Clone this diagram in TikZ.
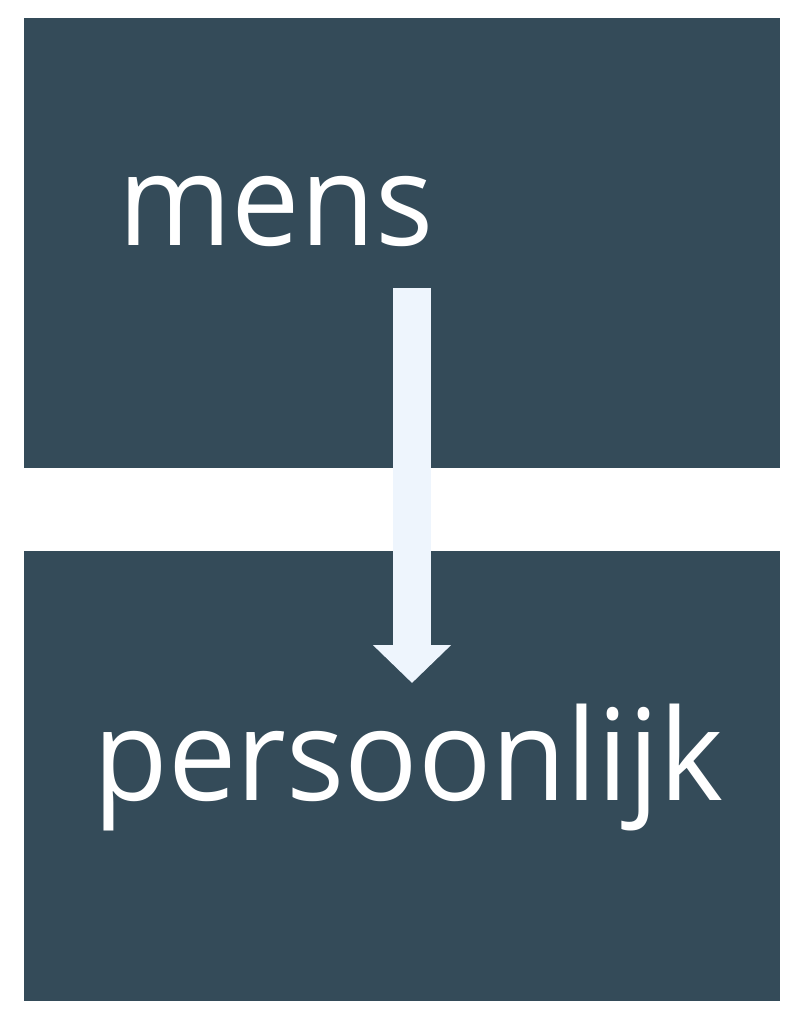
\documentclass[tikz,border=0pt]{standalone}
\usepackage{fontspec}
\setmainfont[FakeStretch=0.96]{Open Sans}
\usetikzlibrary{positioning,arrows.meta}
\definecolor{slate}{HTML}{344B59}
\definecolor{pale}{HTML}{EEF5FD}

\begin{document}
\begin{tikzpicture}[x=1pt,y=-1pt,
		box/.style={fill=slate, draw=none, minimum width=756pt, minimum height=450pt, inner sep=0pt},
		word/.style={text=white, inner sep=0pt, anchor=base, font=\fontsize{127}{127}\selectfont}
		]
		\fill[white] (0,0) rectangle (803,1024);
		\node[box] (top) at (402,243) {};
		\node[box] (bottom) at (402,776) {};
		
		\node[word] (mens) at (276,245) {mens};
		\node[word] (pers) at (408.5,800) {persoonlijk};
		
		\coordinate (start) at (412,288);
		\coordinate (end) at (412,683);
		\draw[pale, line width=38pt, -{Triangle[width=76pt,length=38pt]}] (start) -- (end);
	\end{tikzpicture}
\end{document}
